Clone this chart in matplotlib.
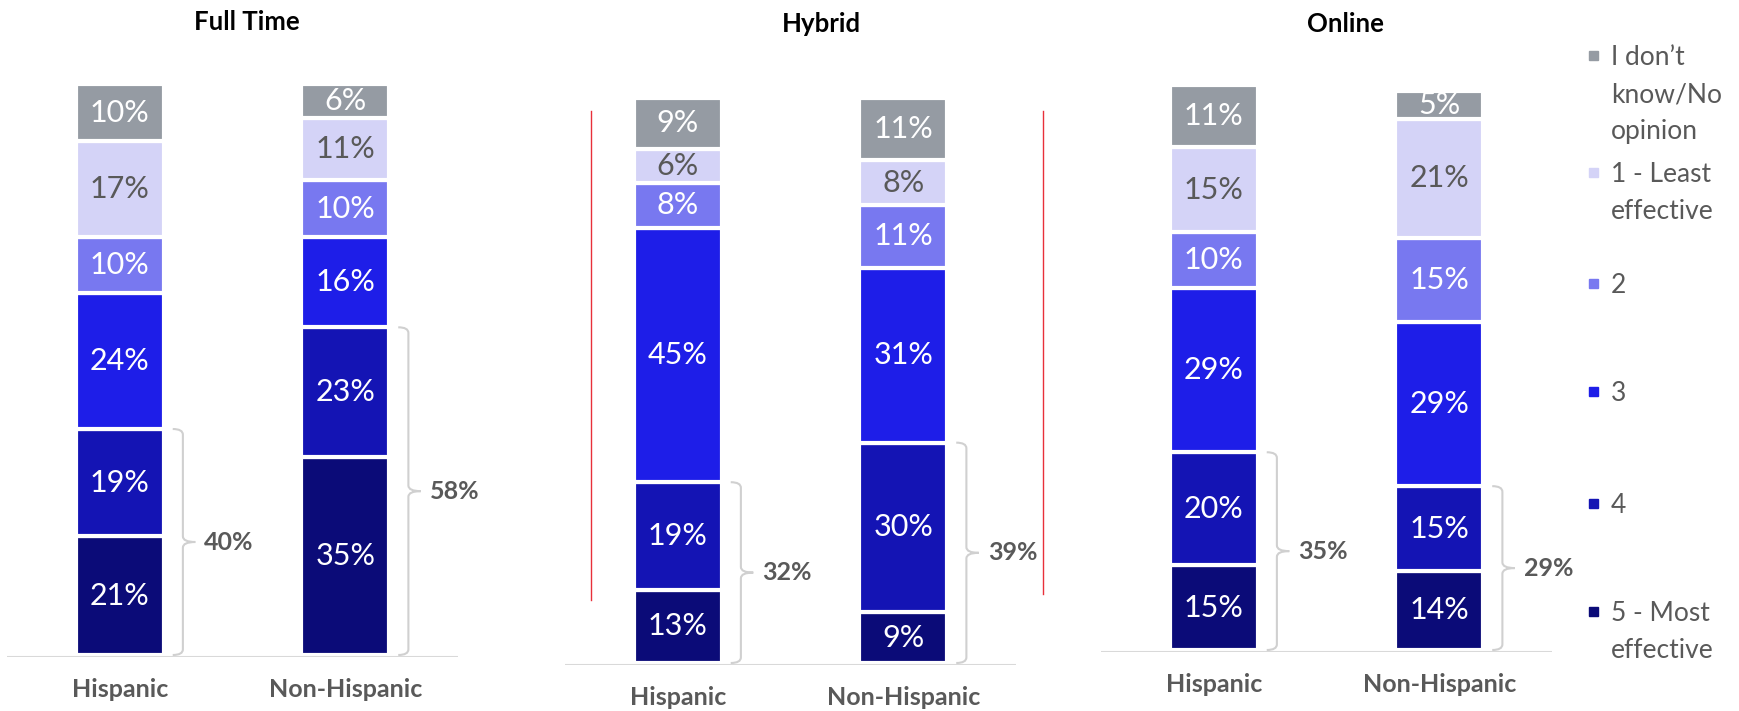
import matplotlib.pyplot as plt
from matplotlib.path import Path
from matplotlib.patches import PathPatch, Rectangle
from matplotlib.lines import Line2D

plt.rcParams['font.family'] = ['Lato', 'DejaVu Sans']

# data, bottom segment first: 5, 4, 3, 2, 1, don't know
levels = ["5 - Most effective", "4", "3", "2", "1 - Least effective",
          "I don\u2019t know/No opinion"]
legend_labels = ["I don\u2019t\nknow/No\nopinion", "1 - Least\neffective", "2",
                 "3", "4", "5 - Most\neffective"]
groups = ["Hispanic", "Non-Hispanic"]
panels = ["Full Time", "Hybrid", "Online"]

full_time_hisp = [21, 19, 24, 10, 17, 10]
full_time_non = [35, 23, 16, 10, 11, 6]
hybrid_hisp = [13, 19, 45, 8, 6, 9]
hybrid_non = [9, 30, 31, 11, 8, 11]
online_hisp = [15, 20, 29, 10, 15, 11]
online_non = [14, 15, 29, 15, 21, 5]

top_two_full = [40, 58]
top_two_hybrid = [32, 39]
top_two_online = [35, 29]

colors = ["#0b0b78", "#1414b4", "#1e1ee8", "#7878f0", "#d4d3f7", "#959ba3"]
text_colors = ["white", "white", "white", "white", "#595959", "white"]
legend_colors = colors[::-1]

W, H = 1740, 711
fig = plt.figure(figsize=(W / 100, H / 100), dpi=100)

PX = 5.65  # pixels per percent
YMAX = 108
YMIN = -0.4


def brace(ax, x, y0, y1, hook=0.045, tip=0.055, r=1.0):
    ym = (y0 + y1) / 2
    verts = [(x - hook, y0), (x, y0), (x, y0 + r), (x, ym - r), (x, ym), (x + tip, ym),
             (x, ym), (x, ym + r), (x, y1 - r), (x, y1), (x - hook, y1)]
    codes = [Path.MOVETO, Path.CURVE3, Path.CURVE3, Path.LINETO, Path.CURVE3, Path.CURVE3,
             Path.CURVE3, Path.CURVE3, Path.LINETO, Path.CURVE3, Path.CURVE3]
    ax.add_patch(PathPatch(Path(verts, codes), fill=False, ec="#d0d0d0", lw=1.5,
                           clip_on=False))


panel_data = [(full_time_hisp, full_time_non, top_two_full),
              (hybrid_hisp, hybrid_non, top_two_hybrid),
              (online_hisp, online_non, top_two_online)]
lefts = [7, 565, 1101]
baselines = [655, 663, 650]
titles_xy = [(247, 22), (821, 24), (1345, 24)]

for p, (hisp, non, tops) in enumerate(panel_data):
    h_px = (YMAX - YMIN) * PX
    top_px = baselines[p] - YMAX * PX
    ax = fig.add_axes([lefts[p] / W, 1 - (top_px + h_px) / H, 451 / W, h_px / H])
    ax.set_xlim(-0.5, 1.5)
    ax.set_ylim(YMIN, YMAX)
    for i, vals in enumerate([hisp, non]):
        bottom = 0
        for j, v in enumerate(vals):
            ax.bar(i, v, bottom=bottom, width=0.39, color=colors[j],
                   edgecolor="white", linewidth=3)
            ax.text(i, bottom + v / 2, f"{v}%", ha="center", va="center",
                    fontsize=22, color=text_colors[j])
            bottom += v
        bx = i + 0.28
        brace(ax, bx, 0, vals[0] + vals[1])
        ax.text(bx + 0.095, (vals[0] + vals[1]) / 2, f"{tops[i]}%", ha="left",
                va="center", fontsize=18, fontweight="bold", color="#595959")
    ax.axhline(YMIN, color="#d9d9d9", lw=1.5)
    for s in ax.spines.values():
        s.set_visible(False)
    ax.set_yticks([])
    ax.set_xticks([0, 1])
    ax.set_xticklabels(groups, fontsize=18, fontweight="bold", color="#595959")
    ax.tick_params(axis="x", length=0, pad=15)
    tx, ty = titles_xy[p]
    fig.text(tx / W, 1 - ty / H, panels[p], ha="center", va="center",
             fontsize=18.5, fontweight="bold", color="black")

# red guide lines around the hybrid panel
fig.add_artist(Line2D([591 / W] * 2, [1 - 111 / H, 1 - 600 / H], color="#e8303a", lw=1))
fig.add_artist(Line2D([1043 / W] * 2, [1 - 111 / H, 1 - 594 / H], color="#e8303a", lw=1))

# legend
legend_y = [55, 172, 283, 391, 503, 611]
for lab, c, y in zip(legend_labels, legend_colors, legend_y):
    fig.add_artist(Rectangle(((1594 - 4.5) / W, 1 - (y + 4.5) / H), 9 / W, 9 / H,
                             transform=fig.transFigure, color=c))
    fig.text(1611 / W, 1 - (y - 10) / H, lab, ha="left", va="top", fontsize=19,
             color="#595959", linespacing=1.6)

fig.savefig("out.png", dpi=100)
